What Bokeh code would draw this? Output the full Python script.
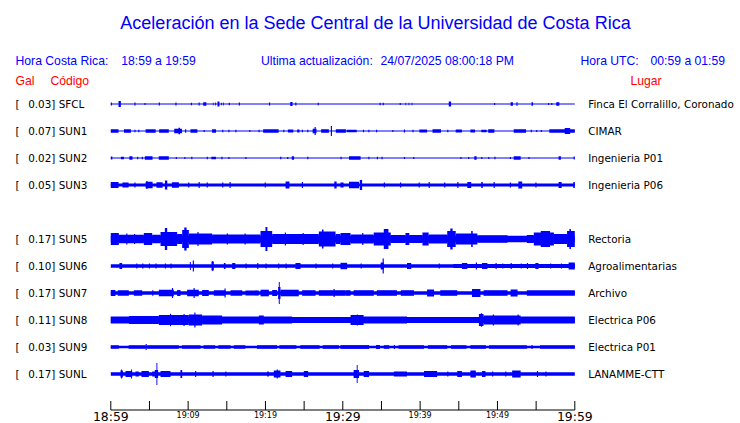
from bokeh.plotting import figure
from bokeh.models import Range1d
from bokeh.core.properties import value
from bokeh.embed import file_html
from bokeh.resources import INLINE

# ---------------- data ----------------
TITLE = "Aceleración en la Sede Central de la Universidad de Costa Rica"
HORA_CR_LABEL = "Hora Costa Rica:"
HORA_CR = "18:59 a 19:59"
ULTIMA_LABEL = "Ultima actualización:"
ULTIMA = "24/07/2025 08:00:18 PM"
HORA_UTC_LABEL = "Hora UTC:"
HORA_UTC = "00:59 a 01:59"

codes = ["SFCL", "SUN1", "SUN2", "SUN3", "SUN5", "SUN6", "SUN7", "SUN8", "SUN9", "SUNL"]
gal = ["0.03", "0.07", "0.02", "0.05", "0.17", "0.10", "0.17", "0.11", "0.03", "0.17"]
places = ["Finca El Corralillo, Coronado", "CIMAR", "Ingenieria P01", "Ingenieria P06",
          "Rectoria", "Agroalimentarias", "Archivo", "Electrica P06", "Electrica P01",
          "LANAMME-CTT"]
slots = [0, 1, 2, 3, 5, 6, 7, 8, 9, 10]          # SUN4 row is empty

# background (quiet) amplitude of each trace
base_amp = [0.5, 0.6, 0.5, 1.5, 3.3, 1.7, 1.8, 3.0, 1.2, 1.7]

# envelope bursts: (start minute, end minute, half amplitude)
SFCL_EV = [(0.0, 0.15, 1.5), (1.0, 1.3, 3.0), (3.05, 3.2, 1.5), (4.35, 4.5, 1.0), (6.2, 6.35, 1.5),
           (8.35, 8.5, 1.5), (10.35, 10.5, 1.2), (11.35, 11.5, 1.5), (11.95, 12.35, 1.7),
           (13.2, 13.3, 1.3), (13.5, 13.6, 1.5), (13.8, 14.05, 2.5), (14.25, 14.35, 1.3),
           (14.5, 14.6, 1.5), (15.25, 15.4, 1.2), (16.55, 16.7, 1.5), (20.45, 20.6, 1.5),
           (23.2, 23.5, 2.0), (23.85, 24.0, 1.5), (26.75, 26.9, 1.2), (34.75, 34.9, 1.3),
           (35.15, 35.3, 1.3), (37.35, 37.5, 1.0), (38.1, 38.2, 1.3), (38.5, 38.6, 1.3),
           (38.9, 39.0, 1.3), (43.7, 44.0, 2.5), (49.55, 49.7, 1.0), (51.7, 52.0, 1.7),
           (52.45, 52.6, 1.7), (54.4, 54.6, 1.7), (56.55, 56.7, 1.0), (56.95, 57.1, 1.0),
           (57.6, 58.0, 1.7)]
SUN1_EV = [(0.0, 1.0, 1.7), (1.7, 2.6, 1.7), (3.05, 3.2, 1.2), (3.55, 3.7, 1.2), (4.5, 5.8, 1.7),
           (6.25, 7.5, 1.7), (8.2, 9.2, 2.3), (8.75, 8.95, 3.2), (9.6, 9.75, 1.7), (10.3, 11.2, 1.7),
           (12.0, 12.15, 1.0), (13.1, 13.6, 1.7), (14.4, 14.55, 1.2), (15.2, 15.35, 1.2),
           (16.1, 16.25, 1.2), (17.9, 18.05, 1.0), (19.1, 19.25, 1.2), (19.7, 21.7, 1.7),
           (22.3, 22.45, 1.2), (22.9, 23.6, 1.5), (24.1, 24.4, 1.5), (24.7, 24.85, 1.2),
           (25.4, 25.55, 1.2), (26.1, 26.6, 2.3), (26.35, 26.5, 4.0), (27.2, 28.2, 1.7),
           (28.45, 28.6, 5.0), (29.1, 30.4, 1.7), (30.5, 31.8, 1.2), (32.6, 32.75, 1.2),
           (33.3, 33.45, 1.2), (34.3, 34.45, 1.2), (36.4, 36.55, 1.0), (37.9, 38.05, 1.5),
           (39.0, 39.15, 1.2), (39.9, 40.9, 1.5), (41.6, 42.7, 1.7), (43.5, 43.65, 1.2),
           (44.6, 45.4, 1.5), (46.5, 47.1, 1.5), (47.9, 48.6, 1.2), (48.8, 49.6, 1.7),
           (52.1, 53.7, 1.7), (54.3, 54.45, 1.2), (55.0, 55.15, 1.0), (55.6, 55.75, 1.0),
           (56.7, 60.0, 1.7), (58.7, 59.4, 3.0)]
SUN2_EV = [(0.0, 0.2, 1.5), (1.3, 1.7, 1.2), (2.4, 2.8, 1.7), (3.4, 3.55, 1.2), (4.0, 4.15, 1.2),
           (4.4, 5.4, 1.7), (6.2, 7.5, 1.7), (8.4, 8.55, 1.0), (9.5, 9.65, 1.0), (10.4, 10.55, 1.2),
           (12.4, 12.55, 1.2), (13.0, 13.6, 1.2), (14.3, 14.45, 1.2), (15.2, 15.35, 1.0),
           (17.4, 17.55, 1.0), (21.9, 22.05, 1.2), (22.8, 22.95, 1.0), (23.4, 23.7, 1.7),
           (25.4, 25.55, 1.2), (29.7, 29.85, 1.2), (30.8, 32.3, 1.7), (33.3, 33.45, 1.2),
           (34.4, 34.55, 1.2), (35.0, 35.15, 1.2), (37.9, 38.05, 1.0), (39.1, 39.25, 1.0),
           (45.2, 45.35, 1.0), (46.2, 46.35, 1.0), (47.0, 47.3, 1.7), (47.9, 48.05, 1.0),
           (48.8, 48.95, 1.0), (49.6, 49.75, 1.2), (51.6, 51.75, 1.0), (52.1, 53.0, 1.7),
           (54.0, 54.15, 1.0), (57.9, 58.2, 1.7), (59.85, 60.0, 1.5)]
SUN3_EV = [(0.0, 1.0, 3.0), (1.5, 2.3, 2.5), (3.05, 3.2, 2.5), (4.5, 5.4, 3.2), (4.6, 4.75, 4.0),
           (5.9, 6.7, 2.8), (7.0, 7.3, 4.5), (7.9, 8.8, 2.8), (10.0, 10.15, 2.5), (11.35, 11.5, 3.0),
           (12.4, 12.55, 2.5), (14.4, 14.55, 2.5), (15.35, 15.5, 3.0), (19.9, 20.05, 2.5),
           (22.6, 23.1, 3.5), (24.7, 24.85, 3.0), (28.9, 29.2, 3.5), (29.7, 30.1, 2.5),
           (30.8, 32.1, 3.2), (32.2, 32.5, 5.0), (35.3, 35.45, 2.5), (37.4, 37.55, 2.5),
           (39.8, 39.95, 2.5), (41.1, 41.25, 3.0), (43.1, 43.25, 2.5), (44.8, 44.95, 3.0),
           (46.1, 46.6, 3.0), (47.9, 48.1, 3.0), (49.5, 49.65, 3.0), (51.6, 51.75, 2.5),
           (52.7, 53.2, 3.5), (54.9, 55.05, 2.5), (57.9, 58.3, 3.0), (59.8, 60.0, 3.0)]
SUN5_EV = [(0.0, 1.04, 6.0), (1.04, 4.27, 4.2), (2.0, 2.15, 5.5), (3.0, 3.15, 5.0),
           (4.27, 5.35, 6.0), (5.35, 6.43, 4.2), (6.43, 8.58, 7.0), (6.99, 7.29, 11.0),
           (8.58, 9.23, 5.0), (9.23, 10.09, 9.0), (9.5, 9.8, 11.5), (10.09, 13.11, 5.5),
           (11.2, 11.35, 7.0), (13.11, 19.36, 4.5), (15.0, 15.15, 5.5), (17.3, 17.45, 5.5),
           (19.36, 20.87, 8.0), (20.0, 20.25, 12.0), (20.87, 26.9, 5.0), (22.5, 22.65, 6.5),
           (24.8, 24.95, 6.0), (26.9, 29.06, 7.5), (27.3, 27.5, 9.5), (29.06, 29.7, 5.0),
           (29.7, 31.0, 6.0), (31.0, 34.0, 4.5), (32.5, 32.65, 6.0), (34.0, 36.2, 6.5),
           (35.3, 35.9, 10.0), (36.2, 38.1, 4.0), (38.1, 38.6, 6.0), (38.6, 40.3, 4.0),
           (40.3, 41.1, 6.5), (41.1, 43.5, 4.5), (43.5, 44.6, 8.0), (43.9, 44.2, 10.5),
           (44.6, 47.4, 5.5), (46.6, 46.8, 8.0), (47.4, 51.3, 3.8), (53.8, 54.7, 4.0),
           (54.7, 57.3, 6.5), (55.6, 56.8, 8.0), (57.3, 59.0, 5.0), (59.0, 60.0, 8.0),
           (59.3, 59.5, 10.0)]
SUN6_EV = [(1.12, 1.47, 3.0), (3.28, 3.43, 2.5), (4.06, 4.21, 2.5), (4.92, 5.07, 2.5),
           (5.78, 5.93, 2.5), (6.99, 7.14, 2.5), (7.72, 7.87, 2.5), (10.22, 10.35, 4.0),
           (10.6, 10.75, 5.5), (13.02, 13.32, 4.5), (13.1, 13.2, 5.0), (14.62, 14.83, 3.0),
           (15.7, 16.1, 3.0), (17.42, 17.57, 2.5), (18.93, 19.08, 3.0), (20.0, 20.15, 2.5),
           (21.64, 21.79, 2.5), (22.6, 22.75, 2.5), (23.88, 24.53, 3.0), (26.47, 26.62, 2.5),
           (28.62, 28.77, 2.5), (29.7, 30.56, 3.2), (32.3, 32.45, 2.5), (34.9, 35.3, 3.5),
           (35.15, 35.3, 7.5), (38.3, 38.85, 3.0), (42.4, 42.55, 2.5), (44.3, 60.0, 2.0),
           (45.4, 46.1, 3.0), (47.2, 47.35, 3.5), (48.0, 48.7, 3.0), (49.75, 49.9, 3.0),
           (50.6, 50.75, 2.5), (51.7, 51.85, 3.0), (53.0, 53.15, 2.5), (53.8, 53.95, 3.0),
           (54.9, 55.3, 3.0), (56.8, 56.95, 2.5), (58.2, 58.35, 2.5), (59.2, 60.0, 3.5)]
SUN7_EV = [(0.0, 0.6, 3.0), (0.9, 2.33, 2.8), (2.98, 4.06, 2.8), (5.35, 5.5, 2.8),
           (6.21, 8.15, 3.3), (7.9, 8.05, 5.0), (8.58, 9.01, 3.0), (9.87, 11.38, 3.3),
           (10.7, 10.85, 5.0), (11.81, 12.67, 3.0), (13.32, 14.83, 2.8), (14.7, 14.85, 4.5),
           (15.48, 16.99, 2.8), (17.42, 19.14, 2.6), (19.36, 20.44, 3.3), (20.87, 21.51, 3.0),
           (21.64, 21.94, 6.0), (21.72, 21.85, 11.0), (21.94, 24.31, 3.3), (24.74, 26.47, 2.8),
           (26.9, 30.35, 2.8), (28.8, 28.95, 4.0), (30.35, 31.0, 2.8), (31.4, 34.0, 2.8),
           (34.4, 37.0, 2.8), (37.5, 39.2, 2.8), (40.9, 41.8, 3.5), (42.6, 44.8, 2.8),
           (46.7, 47.8, 4.0), (48.2, 51.3, 2.8), (51.7, 52.6, 3.5), (53.8, 60.0, 2.8)]
SUN8_EV = [(0.0, 2.33, 3.5), (2.33, 6.21, 4.0), (6.21, 10.09, 5.0), (7.65, 7.8, 6.3),
           (9.4, 9.55, 6.0), (10.09, 11.81, 5.5), (10.8, 10.95, 7.5), (11.81, 14.4, 4.5),
           (14.4, 19.14, 3.5), (19.14, 19.79, 4.5), (19.79, 23.45, 3.5), (31.0, 32.7, 5.0),
           (31.8, 31.95, 5.5), (32.7, 38.3, 3.5), (47.6, 48.2, 6.0), (47.85, 48.0, 6.8),
           (48.2, 53.0, 4.5), (49.4, 49.55, 5.5), (52.6, 52.75, 5.5), (53.0, 60.0, 3.5)]
SUN9_EV = [(0.0, 1.04, 1.8), (2.3, 4.5, 1.8), (4.5, 4.65, 3.0), (4.7, 8.8, 1.8), (9.2, 11.6, 1.8),
           (12.0, 13.5, 1.8), (13.9, 15.5, 1.8), (15.9, 17.4, 1.8), (18.9, 21.5, 1.8),
           (21.8, 24.0, 1.8), (24.5, 27.0, 1.8), (27.4, 29.5, 1.8), (29.7, 33.4, 1.9),
           (34.3, 34.8, 2.0), (35.3, 36.0, 1.8), (36.6, 36.75, 2.0), (37.2, 40.5, 1.8),
           (41.0, 43.5, 1.8), (44.0, 46.0, 1.8), (46.5, 48.5, 1.8), (48.9, 53.8, 1.8),
           (54.4, 54.55, 2.0), (55.5, 60.0, 1.8)]
SUNL_EV = [(1.25, 1.56, 3.5), (1.33, 1.45, 4.5), (1.9, 2.76, 3.0), (2.62, 2.75, 4.5),
           (3.19, 3.62, 2.5), (3.97, 4.92, 3.0), (5.35, 5.78, 2.5), (5.69, 6.12, 4.0),
           (5.9, 6.02, 11.0), (6.43, 7.72, 3.0), (9.01, 9.23, 4.0), (10.9, 11.05, 3.0),
           (13.15, 13.3, 3.0), (14.8, 14.95, 2.5), (20.22, 20.44, 2.5), (21.08, 21.94, 3.5),
           (21.45, 21.6, 4.5), (22.6, 23.45, 3.0), (24.96, 25.52, 3.0), (31.4, 32.1, 4.0),
           (31.8, 31.92, 9.0), (32.7, 33.4, 3.0), (36.6, 38.3, 2.5), (40.5, 42.2, 3.0),
           (43.5, 43.65, 2.5), (44.8, 45.4, 3.0), (46.5, 47.2, 3.5), (48.0, 48.45, 3.0),
           (49.3, 49.45, 2.5), (51.0, 51.15, 2.5), (51.9, 53.0, 3.5), (55.1, 55.25, 3.0),
           (56.2, 56.35, 2.5)]
events = [SFCL_EV, SUN1_EV, SUN2_EV, SUN3_EV, SUN5_EV, SUN6_EV, SUN7_EV, SUN8_EV, SUN9_EV, SUNL_EV]

SPAN_MIN = 60
tick_minutes = [0, 5, 10, 15, 20, 25, 30, 35, 40, 45, 50, 55, 60]
major_ticks = [0, 30, 60]
major_labels = ["18:59", "19:29", "19:59"]
minor_ticks = [10, 20, 40, 50]
minor_labels = ["19:09", "19:19", "19:39", "19:49"]

# ---------------- layout (page pixel positions) ----------------
W, H = 740, 423
X0, PPM = 110.3, 464.0 / 60.0      # page x of minute 0, pixels per minute
Y0, ROW = 103.5, 27                # page y of first trace, row spacing


def mx(px):
    return (px - X0) / PPM


def my(py):
    return py - Y0


BLUE = "#0000ff"
RED = "#ff0000"

p = figure(width=W, height=H, output_backend="svg", toolbar_location=None,
           x_range=Range1d(mx(0), mx(W)), y_range=Range1d(my(H), my(0)),
           x_axis_type=None, y_axis_type=None, min_border=0,
           outline_line_color=None, background_fill_color="white")
p.xgrid.visible = False
p.ygrid.visible = False

# ---------------- traces ----------------
L, R, T, B = [], [], [], []
for i, s in enumerate(slots):
    yc = s * ROW
    L.append(0); R.append(SPAN_MIN); T.append(yc - base_amp[i]); B.append(yc + base_amp[i])
    for (t0, t1, a) in events[i]:
        L.append(t0); R.append(t1); T.append(yc - a); B.append(yc + a)
p.quad(left=L, right=R, top=T, bottom=B, fill_color=BLUE, line_color=None)

# ---------------- header texts ----------------
SANS = value("Liberation Sans")
DJ = value("DejaVu Sans")
p.text(x=[mx(375)], y=[my(22)], text=[TITLE], text_font=SANS, text_font_size="18px",
       text_color=BLUE, text_align="center", text_baseline="middle")
p.text(x=[mx(15), mx(120.7), mx(260.5), mx(380), mx(580), mx(650)], y=[my(60.8)] * 6,
       text=[HORA_CR_LABEL, HORA_CR, ULTIMA_LABEL, ULTIMA, HORA_UTC_LABEL, HORA_UTC],
       text_font=SANS, text_font_size="12.2px", text_color=BLUE, text_baseline="middle")
p.text(x=[mx(15), mx(50), mx(630)], y=[my(80.8)] * 3, text=["Gal", "Código", "Lugar"],
       text_font=SANS, text_font_size="12.2px", text_color=RED, text_baseline="middle")

# ---------------- station labels ----------------
ys = [s * ROW - 0.2 for s in slots]
p.text(x=[mx(15)] * len(slots), y=ys, text=["["] * len(slots), text_font=DJ,
       text_font_size="10.4px", text_color="black", text_baseline="middle")
p.text(x=[mx(27.7)] * len(slots), y=ys, text=[f"{g}] {c}" for g, c in zip(gal, codes)],
       text_font=DJ, text_font_size="10.4px", text_color="black", text_baseline="middle")
p.text(x=[mx(587.7)] * len(slots), y=ys, text=places, text_font=DJ,
       text_font_size="10.4px", text_color="black", text_baseline="middle")

# ---------------- time axis ----------------
AX_Y = my(409.5)
p.segment(x0=[0], y0=[AX_Y], x1=[SPAN_MIN], y1=[AX_Y], line_color="black", line_width=1)
p.segment(x0=tick_minutes, y0=[my(400.5)] * len(tick_minutes), x1=tick_minutes,
          y1=[AX_Y] * len(tick_minutes), line_color="black", line_width=1)
p.text(x=major_ticks, y=[my(416.2)] * len(major_ticks), text=major_labels, text_font=DJ,
       text_font_size="12.4px", text_color="black", text_align="center",
       text_baseline="middle")
p.text(x=minor_ticks, y=[my(414.5)] * len(minor_ticks), text=minor_labels, text_font=DJ,
       text_font_size="8px", text_color="black", text_align="center",
       text_baseline="middle")

open("out.html", "w").write(file_html(p, INLINE))
